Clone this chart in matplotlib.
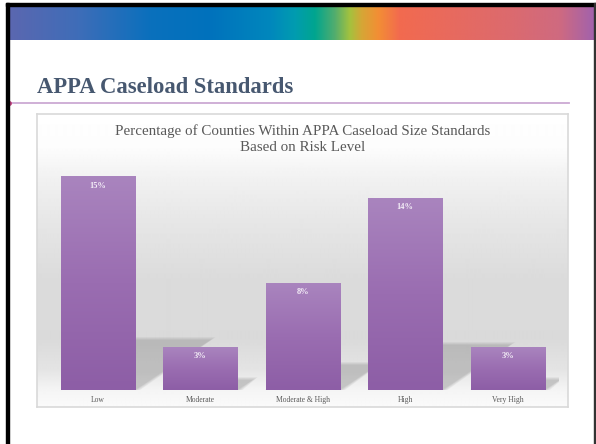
import numpy as np
import matplotlib.pyplot as plt
from matplotlib.patches import Rectangle, Polygon
from matplotlib.colors import LinearSegmentedColormap, to_rgb

categories = ["Low", "Moderate", "Moderate & High", "High", "Very High"]
values = [15.0, 3.0, 7.5, 13.5, 3.0]
value_labels = ["15%", "3%", "8%", "14%", "3%"]

slide_title = "APPA Caseload Standards"
chart_title = "Percentage of Counties Within APPA Caseload Size Standards\nBased on Risk Level"

W, H = 596, 444


def fx(x):
    return x / W


def fy(y):
    return 1 - y / H


fig = plt.figure(figsize=(W / 100, H / 100), dpi=100)
fig.patch.set_facecolor("white")

# coloured band across the top of the slide
band_pos = [9, 77, 150, 210, 270, 295, 315, 335, 350, 362, 378, 400, 450, 510, 560, 594]
band_col = ["#5b67b0", "#3f6db8", "#0a70bd", "#0072bc", "#0087bd", "#009cb0", "#00a58f",
            "#52ad6e", "#a4c23e", "#d6a636", "#f28f34", "#f26a4f", "#e86a5e", "#dc6a6e",
            "#cf6a80", "#a262ac"]
xs = np.linspace(9, 594, 600)
rgb = np.array([to_rgb(c) for c in band_col])
band = np.stack([np.interp(xs, band_pos, rgb[:, k]) for k in range(3)], axis=-1)[None, :, :]
ax_band = fig.add_axes([fx(9), fy(40), fx(594 - 9), 34 / H])
ax_band.imshow(band, aspect="auto", interpolation="bilinear")
ax_band.axis("off")

# slide frame
fig.add_artist(Rectangle((fx(6), 0), fx(3), fy(3), transform=fig.transFigure, color="black", zorder=10))
fig.add_artist(Rectangle((fx(6), fy(6)), 1 - fx(6), 3 / H, transform=fig.transFigure, color="black", zorder=10))
fig.add_artist(Rectangle((fx(594), 0), fx(2), fy(3), transform=fig.transFigure, color="#333333", zorder=10))

# slide title + rule
fig.text(fx(37), fy(93), slide_title, fontsize=16.3, fontweight="bold", color="#475870",
         family="Liberation Serif", va="baseline", ha="left")
fig.add_artist(plt.Line2D([fx(9), fx(569)], [fy(103), fy(103)], transform=fig.transFigure,
                          color="#cba9d3", lw=1.3))
fig.add_artist(plt.Line2D([fx(9)], [fy(103)], transform=fig.transFigure, marker="o",
                          ms=2.5, color="#c2407e", lw=0))

# chart area background
box_l, box_r, box_t, box_b = 37, 568, 114, 407
ax_bg = fig.add_axes([fx(box_l), fy(box_b), fx(box_r - box_l), (box_b - box_t) / H])
gy = np.arange(box_t, box_b + 1)
gv = np.interp(gy, [114, 150, 180, 220, 280, 340, 370, 390, 407],
               [255, 252, 241, 231, 219, 218, 228, 244, 250]) / 255
ax_bg.imshow(np.repeat(gv[:, None], 2, axis=1), cmap="gray", vmin=0, vmax=1,
             aspect="auto", interpolation="bilinear")
ax_bg.set_xticks([])
ax_bg.set_yticks([])
for s in ax_bg.spines.values():
    s.set_color("#d9d9d9")
    s.set_linewidth(1.2)

fig.text(fx(302.5), fy(139.5), chart_title, fontsize=10.8, color="#595959",
         family="Liberation Serif", ha="center", va="center", linespacing=1.3)

# bars
ax = fig.add_axes([fx(46.8), fy(390), fx(512), (390 - 162.8) / H])
ax.patch.set_alpha(0)
x = np.arange(len(categories))
bw = 0.723
cmap = LinearSegmentedColormap.from_list("bar", ["#8d5ea6", "#9a6db1", "#a984be"])
grad = np.linspace(0, 1, 100)[:, None]

# soft shadows thrown back to the right of each bar
for xi, v in zip(x, values):
    hs = 0.235 * v
    dx = 0.209 * hs
    for grow in [0.05, 0.035, 0.02, 0.01, 0.0]:
        pts = [(xi - bw / 2, 0), (xi + bw / 2 + grow, 0),
               (xi + bw / 2 + dx + grow, hs + grow * 4), (xi - bw / 2 + dx, hs + grow * 4)]
        ax.add_patch(Polygon(pts, closed=True, color="#a0a0a0", alpha=0.14, lw=0, zorder=1))

bars = ax.bar(x, values, width=bw, color="none", zorder=2)
for b, v, lab in zip(bars, values, value_labels):
    x0 = b.get_x()
    ax.imshow(grad, cmap=cmap, origin="lower", aspect="auto", zorder=3,
              extent=[x0, x0 + bw, 0, v], interpolation="bilinear")
    ax.text(x0 + bw / 2, v - 0.63, lab, ha="center", va="center", color="#f4eef7",
            fontsize=6, fontweight="bold", family="Liberation Serif", zorder=4)

ax.set_xlim(-0.5, len(categories) - 0.5)
ax.set_ylim(0, 16)
ax.set_xticks(x)
ax.set_xticklabels(categories, fontsize=5.5, color="#595959", family="Liberation Serif")
ax.tick_params(axis="x", length=0, pad=4)
ax.set_yticks([])
for s in ax.spines.values():
    s.set_visible(False)

fig.savefig("out.png", dpi=100)
